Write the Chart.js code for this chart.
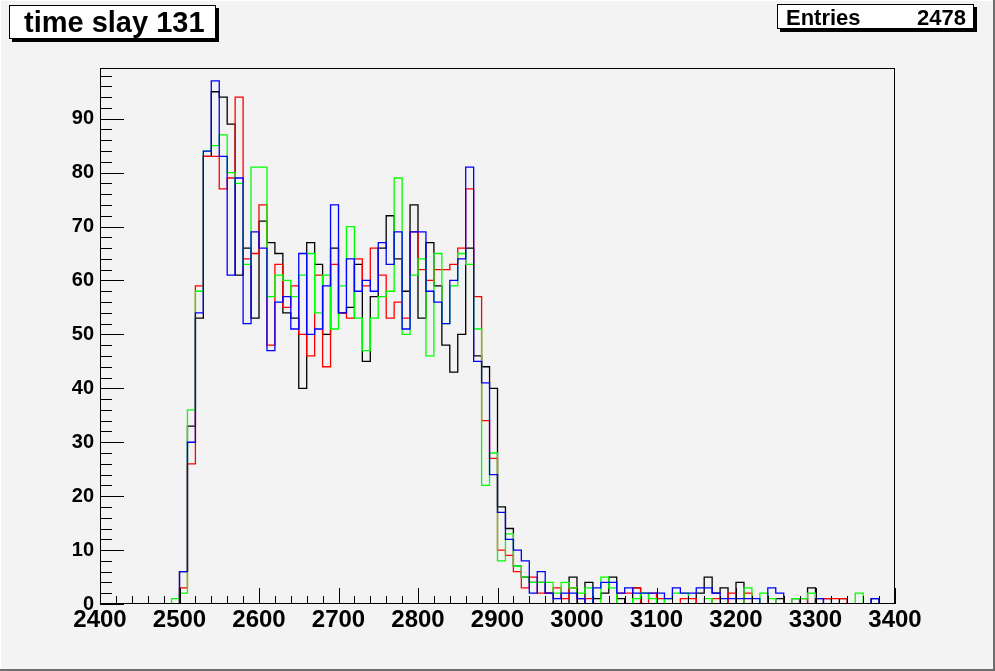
<!DOCTYPE html>
<html><head><meta charset="utf-8">
<script src="https://cdn.jsdelivr.net/npm/chart.js@4/dist/chart.umd.min.js"></script>
<style>
html,body{margin:0;padding:0;background:#f3f3f3;}
#wrap{position:relative;width:995px;height:671px;overflow:hidden;}
canvas{display:block;}
</style>
</head><body><div id="wrap"><canvas id="c" width="995" height="671"></canvas></div>
<script>
// Bin lower edges (plus the final upper edge 3400)
const binEdges = [2400,2410,2420,2430,2440,2450,2460,2470,2480,2490,
  2500,2510,2520,2530,2540,2550,2560,2570,2580,2590,
  2600,2610,2620,2630,2640,2650,2660,2670,2680,2690,
  2700,2710,2720,2730,2740,2750,2760,2770,2780,2790,
  2800,2810,2820,2830,2840,2850,2860,2870,2880,2890,
  2900,2910,2920,2930,2940,2950,2960,2970,2980,2990,
  3000,3010,3020,3030,3040,3050,3060,3070,3080,3090,
  3100,3110,3120,3130,3140,3150,3160,3170,3180,3190,
  3200,3210,3220,3230,3240,3250,3260,3270,3280,3290,
  3300,3310,3320,3330,3340,3350,3360,3370,3380,3390,3400];

const blackCounts = [0,0,0,0,0,0,0,0,0,0,
  0,6,33,53,83,95,94,89,61,66,
  53,71,67,65,54,53,40,67,63,50,
  66,54,55,63,45,57,66,72,64,58,
  74,53,67,59,48,43,50,66,46,44,
  40,18,14,7,5,4,4,2,0,0,
  5,0,4,1,2,5,1,0,3,0,
  0,0,0,0,0,0,2,5,2,3,
  0,4,0,0,0,0,1,0,1,0,
  3,0,1,0,1,0,0,0,1,0];

const redCounts = [0,0,0,0,0,0,0,0,0,0,
  0,3,26,59,83,83,77,79,94,64,
  65,74,48,63,55,59,50,46,61,44,
  63,54,53,64,59,66,61,53,56,53,
  69,62,60,62,62,63,66,77,57,34,
  27,10,9,6,3,5,2,2,3,1,
  3,1,1,0,0,0,2,2,3,0,
  2,1,0,0,1,1,0,0,1,0,
  2,0,2,0,0,0,0,0,0,1,
  0,1,1,1,1,0,0,0,0,0];

const greenCounts = [0,0,0,0,0,0,0,0,0,0,
  1,2,36,58,84,85,87,80,78,63,
  81,81,57,61,60,57,61,65,54,61,
  51,59,70,53,47,53,57,58,79,50,
  61,64,46,65,52,59,65,63,51,22,
  28,8,13,7,5,4,4,4,2,4,
  3,2,3,0,5,3,0,0,1,2,
  1,0,1,2,2,0,0,1,0,0,
  0,0,3,0,2,1,0,0,1,1,
  2,0,0,0,0,0,2,0,0,0];

const blueCounts = [0,0,0,0,0,0,0,0,0,0,
  0,6,30,54,84,97,83,61,79,52,
  69,66,47,56,57,51,65,50,51,59,
  74,54,64,58,60,58,67,63,69,51,
  69,69,58,56,52,60,64,81,45,41,
  24,17,12,10,8,2,6,2,1,2,
  2,1,0,3,4,4,2,3,2,2,
  2,2,1,3,2,2,3,3,2,1,
  1,1,1,1,0,3,2,0,0,0,
  0,1,0,0,0,0,0,0,1,0];

const xTickLabels = [2400,2500,2600,2700,2800,2900,3000,3100,3200,3300,3400];
const yTickLabels = [0,10,20,30,40,50,60,70,80,90];

function stepData(counts){
  return binEdges.map((x,i)=>({x:x, y:counts[Math.min(i,counts.length-1)]}));
}

const FONT = "'Liberation Sans', Arial, Helvetica, sans-serif";

const framePlugin = {
  id:'frame',
  beforeDraw(chart){
    const c = chart.ctx;
    c.save();
    c.fillStyle = '#f3f3f3';
    c.fillRect(0,0,chart.width,chart.height);
    c.fillStyle = '#6e6e6e';
    c.fillRect(chart.width-2,0,2,chart.height);
    c.fillRect(0,chart.height-2,chart.width,2);
    c.fillStyle = '#ffffff';
    c.fillRect(0,0,chart.width-2,1);
    c.fillRect(0,0,1,chart.height-2);
    c.restore();
  },
  afterDraw(chart){
    const c = chart.ctx, a = chart.chartArea;
    const xs = chart.scales.x, ys = chart.scales.y;
    c.save();
    c.strokeStyle = '#000'; c.lineWidth = 1;
    c.strokeRect(Math.round(a.left)+0.5, Math.round(a.top)+0.5, Math.round(a.right-a.left)-1, Math.round(a.bottom-a.top)-1);
    c.beginPath();
    for(let v=2400; v<=3400; v+=20){
      const px = Math.round(xs.getPixelForValue(v))+0.5;
      const len = (v%100===0)?16:8;
      c.moveTo(px, a.bottom); c.lineTo(px, a.bottom-len);
    }
    for(let v=0; v<=98; v+=2){
      const py = Math.round(ys.getPixelForValue(v))+0.5;
      const len = (v%10===0)?24:12;
      c.moveTo(a.left, py); c.lineTo(a.left+len, py);
    }
    c.stroke();

    function shadowBox(x,y,w,h){
      c.fillStyle='#000';
      c.fillRect(x+3,y+3,w,h);
      c.fillStyle='#fff';
      c.fillRect(x,y,w,h);
      c.strokeStyle='#000'; c.lineWidth=1;
      c.strokeRect(x+0.5,y+0.5,w-1,h-1);
    }
    shadowBox(9,5,207,34);
    c.fillStyle='#000';
    c.font = 'bold 29px '+FONT;
    c.textBaseline='alphabetic'; c.textAlign='left';
    c.fillText('time slay 131', 24, 32);
    shadowBox(777,4,197,25);
    c.fillStyle='#000';
    c.font = 'bold 22px '+FONT;
    c.textAlign='left';
    c.fillText('Entries', 786, 25);
    c.textAlign='right';
    c.fillText('2478', 966, 25);
    c.restore();
  }
};

const mk = (label,color,counts,order)=>({
  label, data: stepData(counts), borderColor: color, backgroundColor: color,
  borderWidth: 1.3, stepped: 'after', pointRadius: 0, fill: false, order: order
});

new Chart(document.getElementById('c'), {
  type: 'line',
  data: { datasets: [
    mk('black', '#000000', blackCounts, 3),
    mk('red', '#ff0000', redCounts, 2),
    mk('green', '#00ff00', greenCounts, 1),
    mk('blue', '#0000ff', blueCounts, 0)
  ]},
  options: {
    responsive:false, animation:false, devicePixelRatio:1,
    layout:{padding:{left:0, top:68, right:100, bottom:0}},
    plugins:{legend:{display:false}, tooltip:{enabled:false}, title:{display:false}},
    elements:{line:{tension:0}},
    scales:{
      x:{ type:'linear', min:2400, max:3400,
        afterBuildTicks(s){ s.ticks = xTickLabels.map(v=>({value:v})); },
        afterFit(s){ s.height = 67; },
        grid:{display:false, drawTicks:false}, border:{display:false},
        ticks:{ color:'#000', font:{family:FONT, weight:'bold', size:24}, padding:2, maxRotation:0, autoSkip:false,
          callback:(v)=>String(v) }
      },
      y:{ type:'linear', min:0, max:99.4,
        afterBuildTicks(s){ s.ticks = yTickLabels.map(v=>({value:v})); },
        afterFit(s){ s.width = 100; },
        grid:{display:false, drawTicks:false}, border:{display:false},
        ticks:{ color:'#000', font:{family:FONT, weight:'bold', size:20}, padding:6, autoSkip:false,
          callback:(v)=>String(v) }
      }
    }
  },
  plugins:[framePlugin]
});
</script>
</body></html>
